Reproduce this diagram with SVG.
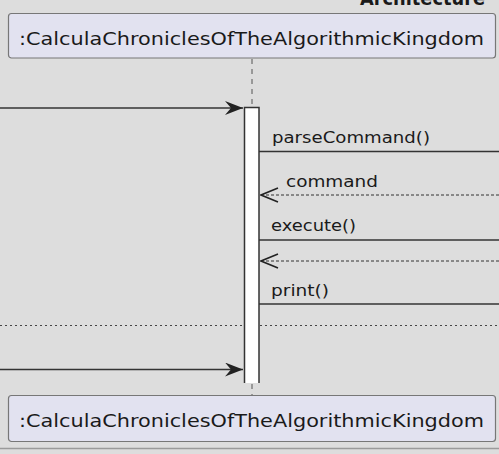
<svg xmlns="http://www.w3.org/2000/svg" width="499" height="454" viewBox="0 0 499 454">
  <style>
    .bg { fill: #dddddd; }
    .participant rect { fill: #e2e2f0; stroke: #777777; stroke-width: 1.2; }
    .participant text { font-family: "DejaVu Sans", "Liberation Sans", sans-serif; font-size: 18px; fill: #1a1a1a; }
    .lifeline { stroke: #555555; stroke-width: 1; stroke-dasharray: 5 5; }
    .activation { fill: #ffffff; stroke: none; }
    .activation-edge { stroke: #333333; stroke-width: 1.5; fill: none; }
    .msg { stroke: #333333; stroke-width: 1.5; fill: none; }
    .ret { stroke: #333333; stroke-width: 1; stroke-dasharray: 3 2; fill: none; }
    .divider { stroke: #444444; stroke-width: 1; stroke-dasharray: 2 3; }
    .label { font-family: "DejaVu Sans", "Liberation Sans", sans-serif; font-size: 16px; fill: #1a1a1a; }
    .title { font-family: "DejaVu Sans", "Liberation Sans", sans-serif; font-size: 19px; font-weight: bold; fill: #1a1a1a; }
  </style>
  <defs>
    <marker id="solidHead" viewBox="0 0 18 14" refX="18" refY="7" markerWidth="18" markerHeight="14" markerUnits="userSpaceOnUse" orient="auto">
      <polygon points="18,7 0,0 6,7 0,14" fill="#222222"/>
    </marker>
    <marker id="openHead" viewBox="0 0 20 16" refX="19" refY="8" markerWidth="20" markerHeight="16" markerUnits="userSpaceOnUse" orient="auto">
      <polyline points="2,1 19,8 2,15" fill="none" stroke="#222222" stroke-width="1.6"/>
    </marker>
  </defs>

  <rect class="bg" x="0" y="0" width="499" height="454"/>

  <!-- diagram title, clipped at the top edge -->
  <text class="title" x="485" y="4.5" text-anchor="end" textLength="125" lengthAdjust="spacingAndGlyphs">Architecture</text>

  <!-- lifeline of the main participant -->
  <g id="lifeline">
    <line class="lifeline" x1="252" y1="59" x2="252" y2="107"/>
    <line class="lifeline" x1="252" y1="384" x2="252" y2="395"/>
  </g>

  <!-- divider behind the activation bar -->
  <line class="divider" x1="0" y1="325.5" x2="499" y2="325.5"/>

  <g id="activation">
    <rect class="activation" x="244.5" y="107.5" width="14.5" height="275.5"/>
    <path class="activation-edge" d="M244.5,383 V107.5 H259 V383"/>
  </g>

  <g id="connectors">
    <line class="msg" x1="0" y1="108" x2="243" y2="108" marker-end="url(#solidHead)"/>
    <line class="msg" x1="259" y1="151.5" x2="499" y2="151.5"/>
    <line class="ret" x1="499" y1="195" x2="261" y2="195" marker-end="url(#openHead)"/>
    <line class="msg" x1="259" y1="240" x2="499" y2="240"/>
    <line class="ret" x1="499" y1="261" x2="261" y2="261" marker-end="url(#openHead)"/>
    <line class="msg" x1="259" y1="304" x2="499" y2="304"/>
    <line class="msg" x1="0" y1="369.5" x2="243" y2="369.5" marker-end="url(#solidHead)"/>
  </g>

  <g id="labels">
    <text class="label" x="272" y="143" textLength="158" lengthAdjust="spacingAndGlyphs">parseCommand()</text>
    <text class="label" x="286" y="187" textLength="92" lengthAdjust="spacingAndGlyphs">command</text>
    <text class="label" x="271" y="231" textLength="85" lengthAdjust="spacingAndGlyphs">execute()</text>
    <text class="label" x="271" y="296" textLength="58" lengthAdjust="spacingAndGlyphs">print()</text>
  </g>

  <g id="participant-top" class="participant">
    <rect x="8.5" y="13.5" width="487" height="44.5" rx="3"/>
    <text x="19" y="45" textLength="465" lengthAdjust="spacingAndGlyphs">:CalculaChroniclesOfTheAlgorithmicKingdom</text>
  </g>

  <g id="participant-bottom" class="participant">
    <rect x="8.5" y="395.5" width="487" height="46" rx="3"/>
    <text x="19" y="426.5" textLength="465" lengthAdjust="spacingAndGlyphs">:CalculaChroniclesOfTheAlgorithmicKingdom</text>
  </g>

  <!-- lower frame edge -->
  <line x1="0" y1="448.5" x2="499" y2="448.5" stroke="#9a9a9a" stroke-width="1.5"/>
</svg>
